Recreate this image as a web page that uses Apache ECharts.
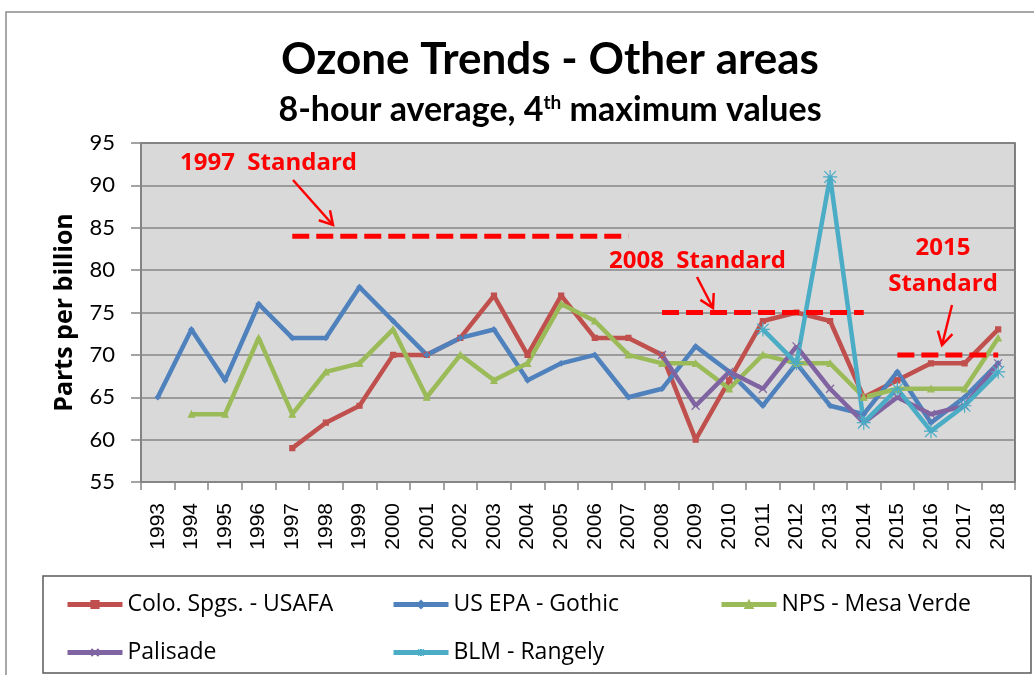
<!DOCTYPE html>
<html>
<head>
<meta charset="utf-8">
<script src="https://cdn.jsdelivr.net/npm/echarts@6/dist/echarts.min.js"></script>
<style>
  html, body { margin: 0; padding: 0; background: #fff; }
  #chart { width: 1034px; height: 675px; }
</style>
</head>
<body>
<div id="chart"></div>
<script>
const years = ['1993', '1994', '1995', '1996', '1997', '1998', '1999', '2000', '2001', '2002', '2003', '2004', '2005',
  '2006', '2007', '2008', '2009', '2010', '2011', '2012', '2013', '2014', '2015', '2016', '2017', '2018'];
const coloSpgs = [null, null, null, null, 59, 62, 64, 70, 70, 72, 77, 70, 77, 72, 72, 70, 60, 67, 74, 75, 74, 65, 67, 69, 69, 73];
const gothic = [65, 73, 67, 76, 72, 72, 78, 74, 70, 72, 73, 67, 69, 70, 65, 66, 71, 68, 64, 69, 64, 63, 68, 62, 65, 69];
const mesaVerde = [null, 63, 63, 72, 63, 68, 69, 73, 65, 70, 67, 69, 76, 74, 70, 69, 69, 66, 70, 69, 69, 65, 66, 66, 66, 72];
const palisade = [null, null, null, null, null, null, null, null, null, null, null, null, null, null, null,
  70, 64, 68, 66, 71, 66, 62, 65, 63, 64, 69];
const rangely = [null, null, null, null, null, null, null, null, null, null, null, null, null, null, null, null, null, null,
  73, 69, 91, 62, 66, 61, 64, 68];

// ozone standards: level and the years the dashed line covers
const standardLevels = [84, 75, 70];
const standardFrom = ['1997', '2008', '2015'];
const standardTo = ['2007', '2014', '2018'];

const chart = echarts.init(document.getElementById('chart'));

const xMark = 'path://M0,0L10,10M10,0L0,10';
const starMark = 'path://M0,0L10,10M10,0L0,10M5,-1L5,11M-1,5L11,5';

function lineSeries(name, data, color, symbol, size) {
  return {
    name: name,
    type: 'line',
    data: data,
    symbol: symbol,
    symbolSize: size,
    showSymbol: true,
    connectNulls: false,
    lineStyle: { color: color, width: 4.5 },
    itemStyle: { color: color, borderColor: color, borderWidth: 1.2 },
    emphasis: { disabled: true }
  };
}

const stdSeries = standardLevels.map((lvl, i) => ({
  type: 'line',
  data: [[standardFrom[i], lvl], [standardTo[i], lvl]],
  symbol: 'none',
  z: 5,
  lineStyle: { color: '#ff0000', width: 5, type: [17, 7] },
  emphasis: { disabled: true }
}));

// arrow: shaft + open head
function arrow(x1, y1, x2, y2) {
  const a = Math.atan2(y2 - y1, x2 - x1);
  const h = 15, s = Math.PI / 6;
  const style = { stroke: '#ff0000', lineWidth: 2.5, fill: null };
  return [
    { type: 'line', shape: { x1: x1, y1: y1, x2: x2, y2: y2 }, style: style, z: 10 },
    { type: 'polyline', shape: { points: [
      [x2 - h * Math.cos(a - s), y2 - h * Math.sin(a - s)],
      [x2, y2],
      [x2 - h * Math.cos(a + s), y2 - h * Math.sin(a + s)]
    ] }, style: style, z: 10 }
  ];
}

function note(text, x, y, align) {
  return {
    type: 'text', x: x, y: y, z: 10,
    style: { text: text, fill: '#ff0000', font: 'bold 24px "Open Sans"', textAlign: align || 'left', textVerticalAlign: 'middle' }
  };
}

const legendText = { fontSize: 23, color: '#000', fontFamily: 'Open Sans' };
function legendAt(name, left, top) {
  return {
    data: [name], left: left, top: top, itemWidth: 55, itemHeight: 9, itemGap: 0,
    lineStyle: { width: 5 }, textStyle: legendText, selectedMode: false
  };
}

chart.setOption({
  animation: false,
  backgroundColor: '#fff',
  title: [
    { text: 'Ozone Trends - Other areas', left: 545, top: 33, textAlign: 'center',
      textStyle: { fontFamily: 'Lato', fontWeight: 'bold', fontSize: 44, color: '#000' } },
    { text: '8-hour average, 4{sup|th} maximum values', left: 545, top: 88, textAlign: 'center',
      textStyle: { fontFamily: 'Lato', fontWeight: 'bold', fontSize: 34, color: '#000',
        rich: { sup: { fontFamily: 'Lato', fontWeight: 'bold', fontSize: 19, color: '#000', verticalAlign: 'top' } } } }
  ],
  legend: [
    legendAt('Colo. Spgs. - USAFA', 60, 588),
    legendAt('US EPA - Gothic', 386, 588),
    legendAt('NPS - Mesa Verde', 714, 588),
    legendAt('Palisade', 60, 636),
    legendAt('BLM - Rangely', 386, 636)
  ],
  grid: {
    left: 141, right: 19, top: 143, bottom: 193,
    show: true, backgroundColor: '#d9d9d9', borderColor: '#595959', borderWidth: 1.5
  },
  xAxis: {
    type: 'category',
    data: years,
    boundaryGap: true,
    axisLine: { lineStyle: { color: '#868686', width: 1.5 } },
    axisTick: { show: true, length: 8, lineStyle: { color: '#868686', width: 1.5 } },
    axisLabel: { rotate: 90, margin: 21, fontSize: 21, fontFamily: 'Arial', color: '#000', interval: 0 },
    splitLine: { show: false }
  },
  yAxis: {
    type: 'value',
    min: 55, max: 95, interval: 5,
    name: 'Parts per billion',
    nameLocation: 'middle',
    nameRotate: 90,
    nameGap: 64,
    nameTextStyle: { fontFamily: 'Open Sans', fontWeight: 'bold', fontSize: 25, color: '#000' },
    axisLine: { show: true, lineStyle: { color: '#868686', width: 1.5 } },
    axisTick: { show: true, length: 10, lineStyle: { color: '#868686', width: 1.5 } },
    axisLabel: { margin: 26, fontSize: 22, fontFamily: 'Lato', color: '#000' },
    splitLine: { lineStyle: { color: '#868686', width: 1.5 } }
  },
  series: [
    lineSeries('Colo. Spgs. - USAFA', coloSpgs, '#c0504d', 'rect', 5),
    lineSeries('US EPA - Gothic', gothic, '#4f81bd', 'diamond', 5),
    lineSeries('NPS - Mesa Verde', mesaVerde, '#9bbb59', 'triangle', 6),
    lineSeries('Palisade', palisade, '#8064a2', xMark, 8),
    lineSeries('BLM - Rangely', rangely, '#4bacc6', starMark, 14)
  ].concat(stdSeries),
  graphic: [
    { type: 'rect', shape: { x: 6, y: 12, width: 1100, height: 700 }, style: { fill: null, stroke: '#8c8c8c', lineWidth: 1.5 }, z: -1 },
    { type: 'rect', shape: { x: 43, y: 576, width: 988, height: 97 }, style: { fill: null, stroke: '#595959', lineWidth: 1.5 }, z: 1 },
    note('1997  Standard', 180, 163),
    note('2008  Standard', 609, 261),
    note('2015', 943, 248, 'center'),
    note('Standard', 943, 284, 'center')
  ].concat(arrow(293, 180, 333, 225), arrow(697, 277, 713, 308), arrow(952, 305, 942, 345))
});
</script>
</body>
</html>
